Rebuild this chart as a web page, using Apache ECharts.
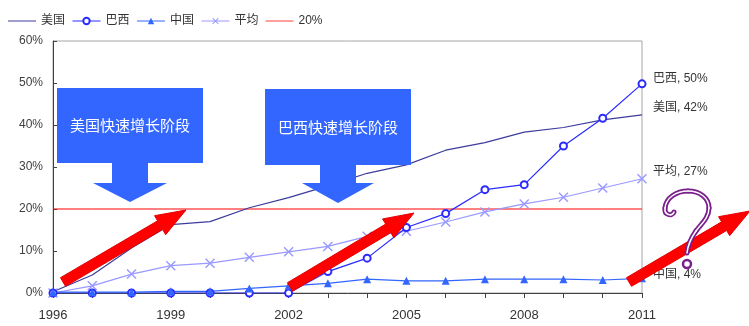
<!DOCTYPE html>
<html>
<head>
<meta charset="utf-8">
<script src="https://cdn.jsdelivr.net/npm/echarts@6/dist/echarts.min.js"></script>
<style>
  html, body { margin: 0; padding: 0; background: #fff; }
  #chart { width: 749px; height: 326px; }
</style>
</head>
<body>
<div id="chart"></div>
<script>
// Share of households (%), 1996-2011
const years = ['1996', '1997', '1998', '1999', '2000', '2001', '2002', '2003',
               '2004', '2005', '2006', '2007', '2008', '2009', '2010', '2011'];
const usa     = [0.3, 4.3, 10.7, 16.3, 17.0, 20.3, 22.7, 25.5, 28.5, 30.5, 34.0, 35.8, 38.3, 39.4, 41.2, 42.4];
const brazil  = [0, 0, 0, 0, 0, 0, 0, 5.1, 8.3, 15.6, 18.9, 24.6, 25.8, 35.0, 41.6, 49.8];
const china   = [0.2, 0.2, 0.2, 0.4, 0.4, 1.1, 1.7, 2.3, 3.3, 2.9, 2.9, 3.3, 3.3, 3.3, 3.1, 3.5];
const average = [0, 1.7, 4.5, 6.5, 7.1, 8.5, 9.8, 11.1, 13.5, 14.7, 16.9, 19.3, 21.2, 22.8, 25.0, 27.2];
const threshold = [20, 20, 20, 20, 20, 20, 20, 20, 20, 20, 20, 20, 20, 20, 20, 20];
const yTicks = { min: 0, max: 60, step: 10 };

const FONT = '"Liberation Sans", "Noto Sans CJK SC", sans-serif';
const xShape = 'path://M0,1 L1,0 L5,4 L9,0 L10,1 L6,5 L10,9 L9,10 L5,6 L1,10 L0,9 L4,5 Z';
const plainLine = 'path://M0,0 L28,0 L28,1 L0,1 Z';

function endLabel(dy) {
  return {
    show: true,
    distance: 11,
    offset: [0, dy],
    color: '#333',
    fontSize: 12,
    fontFamily: FONT,
    formatter: p => p.seriesName + ', ' + Math.round(p.value) + '%'
  };
}

// Block arrow polygon from tail to tip
function arrowPoints(x1, y1, x2, y2, sw, hw, hl) {
  const dx = x2 - x1, dy = y2 - y1, L = Math.hypot(dx, dy);
  const ux = dx / L, uy = dy / L, px = -uy, py = ux;
  const bx = x2 - ux * hl, by = y2 - uy * hl;
  return [
    [x1 + px * sw / 2, y1 + py * sw / 2],
    [bx + px * sw / 2, by + py * sw / 2],
    [bx + px * hw / 2, by + py * hw / 2],
    [x2, y2],
    [bx - px * hw / 2, by - py * hw / 2],
    [bx - px * sw / 2, by - py * sw / 2],
    [x1 - px * sw / 2, y1 - py * sw / 2]
  ];
}

function redArrow(x1, y1, x2, y2) {
  return {
    type: 'polygon', z: 50,
    shape: { points: arrowPoints(x1, y1, x2, y2, 10, 22, 30) },
    style: { fill: '#ff0000', stroke: '#e60000', lineWidth: 1 }
  };
}

// Callout box with a downward arrow beneath it
function callout(left, top, right, bottom, shaftHalf, headHalf, shaftEnd, tipY, text) {
  const cx = (left + right) / 2;
  return [{
    type: 'polygon', z: 40,
    shape: { points: [
      [left, top], [right, top], [right, bottom], [cx + shaftHalf, bottom],
      [cx + shaftHalf, shaftEnd], [cx + headHalf, shaftEnd], [cx, tipY],
      [cx - headHalf, shaftEnd], [cx - shaftHalf, shaftEnd], [cx - shaftHalf, bottom],
      [left, bottom]
    ] },
    style: { fill: '#3366ff' }
  }, {
    type: 'text', z: 41,
    x: cx, y: (top + bottom) / 2,
    style: {
      text: text, fill: '#ffffff', fontSize: 15,
      fontFamily: '"Noto Sans CJK SC", sans-serif',
      align: 'center', verticalAlign: 'middle'
    }
  }];
}

// Question mark drawn as a chain of cubic curves: [x1,y1, cp1x,cp1y, cp2x,cp2y, x2,y2]
const qCurves = [
  [674, 212, 672, 217, 664, 215, 665, 208],
  [665, 208, 666, 198, 676, 191, 688, 191],
  [688, 191, 700, 191, 709, 198, 709, 208],
  [709, 208, 709, 218, 701, 224, 696, 231],
  [696, 231, 691, 238, 688, 244, 687, 253]
];
function qStroke(color, width, z) {
  return qCurves.map(c => ({
    type: 'bezierCurve', z: z,
    shape: { x1: c[0], y1: c[1], cpx1: c[2], cpy1: c[3], cpx2: c[4], cpy2: c[5], x2: c[6], y2: c[7] },
    style: { fill: null, stroke: color, lineWidth: width, lineCap: 'round' }
  }));
}

const chart = echarts.init(document.getElementById('chart'), null, { renderer: 'canvas' });

chart.setOption({
  animation: false,
  backgroundColor: '#fff',
  textStyle: { fontFamily: FONT },
  legend: {
    left: 3, top: 10,
    itemWidth: 28, itemHeight: 8, itemGap: 7,
    lineStyle: { width: 1 },
    textStyle: { fontSize: 12, color: '#333', fontFamily: FONT },
    data: [
      { name: '美国', icon: plainLine },
      '巴西', '中国', '平均',
      { name: '20%', icon: plainLine }
    ]
  },
  grid: {
    left: 53, right: 107, top: 41, bottom: 33,
    show: true, borderColor: '#a6a6a6', borderWidth: 1
  },
  xAxis: {
    type: 'category',
    data: years,
    boundaryGap: false,
    axisLine: { lineStyle: { color: '#404040', width: 1 } },
    axisTick: { show: true, interval: 0, length: 5, lineStyle: { color: '#404040' } },
    axisLabel: { interval: 2, margin: 16, fontSize: 13, color: '#333', fontFamily: FONT }
  },
  yAxis: {
    type: 'value',
    min: yTicks.min, max: yTicks.max, interval: yTicks.step,
    axisLine: { show: true, lineStyle: { color: '#404040', width: 1 } },
    axisTick: { show: true, inside: true, length: 4, lineStyle: { color: '#404040' } },
    splitLine: { show: false },
    axisLabel: { formatter: '{value}%', margin: 10, fontSize: 12, color: '#404040', fontFamily: FONT }
  },
  series: [
    {
      name: '美国', type: 'line', data: usa,
      symbol: 'none', showSymbol: false,
      lineStyle: { color: '#3c3c9c', width: 1.2 },
      itemStyle: { color: '#3c3c9c' },
      endLabel: endLabel(-7), z: 3
    },
    {
      name: '巴西', type: 'line', data: brazil,
      symbol: 'emptyCircle', symbolSize: 7,
      lineStyle: { color: '#2b2bff', width: 1.2 },
      itemStyle: { color: '#2b2bff', borderWidth: 1.2 },
      endLabel: endLabel(-5), z: 4
    },
    {
      name: '中国', type: 'line', data: china,
      symbol: 'triangle', symbolSize: 8,
      lineStyle: { color: '#3366ff', width: 1.2 },
      itemStyle: { color: '#3366ff' },
      endLabel: endLabel(-4), z: 4
    },
    {
      name: '平均', type: 'line', data: average,
      symbol: xShape, symbolSize: 10,
      lineStyle: { color: '#9999ff', width: 1.2 },
      itemStyle: { color: '#9999ff' },
      endLabel: endLabel(-7), z: 3
    },
    {
      name: '20%', type: 'line', data: threshold,
      symbol: 'none', showSymbol: false,
      lineStyle: { color: '#ff0000', width: 1 },
      itemStyle: { color: '#ff4040' }, z: 2
    }
  ],
  graphic: [
    ...callout(57, 88, 203, 163, 18, 37, 183, 202, '美国快速增长阶段'),
    ...callout(265, 89, 411, 165, 18, 36, 183, 203, '巴西快速增长阶段'),
    redArrow(63, 282, 186, 210),
    redArrow(290, 287, 414, 213),
    redArrow(629, 282, 750, 211),
    ...qStroke('#7a1f8c', 5, 60),
    ...qStroke('#ffffff', 1.5, 61),
    {
      type: 'circle', z: 60,
      shape: { cx: 687, cy: 264, r: 4 },
      style: { fill: '#ffffff', stroke: '#7a1f8c', lineWidth: 2.5 }
    }
  ]
});
</script>
</body>
</html>
